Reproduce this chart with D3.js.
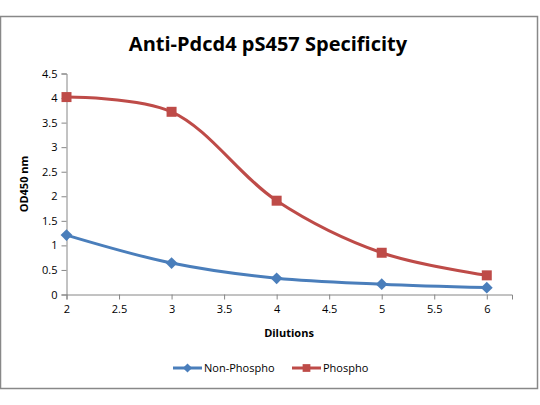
<!DOCTYPE html>
<html>
<head>
<meta charset="utf-8">
<script src="https://cdn.jsdelivr.net/npm/d3@7"></script>
<style>
  body { margin: 0; background: #fff; }
  svg { font-family: "Open Sans", "Liberation Sans", sans-serif; }
</style>
</head>
<body>
<svg id="chart" width="540" height="405"></svg>
<script>
const dilutions = [2, 3, 4, 5, 6];
const nonPhospho = [1.21, 0.64, 0.33, 0.21, 0.14];
const phospho = [4.02, 3.72, 1.91, 0.85, 0.39];
const xTicks = [2, 2.5, 3, 3.5, 4, 4.5, 5, 5.5, 6];
const yTicks = [0, 0.5, 1, 1.5, 2, 2.5, 3, 3.5, 4, 4.5];

const svg = d3.select("#chart");

// outer frame
svg.append("rect")
  .attr("x", 0.5).attr("y", 16.5)
  .attr("width", 537).attr("height", 372)
  .attr("fill", "none")
  .attr("stroke", "#888")
  .attr("stroke-width", 1.5);

const x = d3.scaleLinear().domain([2, 6.24]).range([66.5, 512]);
const y = d3.scaleLinear().domain([0, 4.5]).range([294.5, 73.5]);

svg.append("text")
  .attr("x", 268).attr("y", 51)
  .attr("text-anchor", "middle")
  .attr("font-size", 20)
  .attr("font-weight", "bold")
  .attr("fill", "#000")
  .text("Anti-Pdcd4 pS457 Specificity");

const xAxis = svg.append("g")
  .attr("transform", `translate(0,${y(0)})`)
  .call(d3.axisBottom(x).tickValues(xTicks).tickSize(5).tickPadding(6).tickFormat(d3.format("")));
const yAxis = svg.append("g")
  .attr("transform", `translate(${x(2)},0)`)
  .call(d3.axisLeft(y).tickValues(yTicks).tickSize(5).tickPadding(4).tickFormat(d3.format("")));

[xAxis, yAxis].forEach(g => {
  g.select(".domain").attr("stroke", "#868686");
  g.selectAll(".tick line").attr("stroke", "#868686");
  g.selectAll(".tick text").attr("font-size", 11).attr("fill", "#000")
    .attr("font-family", "'Open Sans', sans-serif");
});

svg.append("text")
  .attr("x", 289).attr("y", 337)
  .attr("text-anchor", "middle")
  .attr("font-size", 11).attr("font-weight", "bold")
  .text("Dilutions");

svg.append("text")
  .attr("transform", `translate(28,${(y(0) + y(4.5)) / 2}) rotate(-90)`)
  .attr("text-anchor", "middle")
  .attr("font-size", 11).attr("font-weight", "bold")
  .text("OD450 nm");

const series = [
  { name: "Non-Phospho", values: nonPhospho, color: "#4a7ebb", rot: 45, size: 70 },
  { name: "Phospho", values: phospho, color: "#be4b48", rot: 0, size: 100 }
];

const line = d3.line()
  .x(d => x(d[0]))
  .y(d => y(d[1]))
  .curve(d3.curveCatmullRom.alpha(0.5));

series.forEach(s => {
  const pts = dilutions.map((d, i) => [d, s.values[i]]);
  svg.append("path")
    .datum(pts)
    .attr("d", line)
    .attr("fill", "none")
    .attr("stroke", s.color)
    .attr("stroke-width", 3);
  svg.selectAll(null)
    .data(pts)
    .enter()
    .append("path")
    .attr("transform", d => `translate(${x(d[0])},${y(d[1])}) rotate(${s.rot})`)
    .attr("d", d3.symbol().type(d3.symbolSquare).size(s.size))
    .attr("fill", s.color);
});

// legend
const legendX = [173, 292];
series.forEach((s, i) => {
  const g = svg.append("g").attr("transform", `translate(${legendX[i]},368)`);
  g.append("line")
    .attr("x1", 0).attr("x2", 29)
    .attr("stroke", s.color).attr("stroke-width", 3);
  g.append("path")
    .attr("transform", `translate(14.5,0) rotate(${s.rot})`)
    .attr("d", d3.symbol().type(d3.symbolSquare).size(s.size * 0.6))
    .attr("fill", s.color);
  g.append("text")
    .attr("x", 31).attr("y", 4)
    .attr("font-size", 11)
    .text(s.name);
});
</script>
</body>
</html>
